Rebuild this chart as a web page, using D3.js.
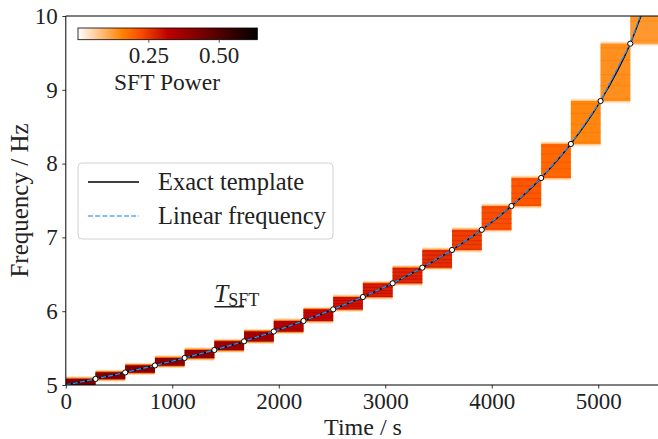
<!DOCTYPE html>
<html>
<head>
<meta charset="utf-8">
<script src="https://cdn.jsdelivr.net/npm/d3@7"></script>
<style>
  body { margin: 0; background: #fff; }
  text { font-family: "Liberation Serif", "DejaVu Serif", serif; fill: #222; }
</style>
</head>
<body>
<div id="chart"></div>
<script>
// chart dimensions
const width = 658;
const height = 439;

// SFT data
const tSft = 279;                       // SFT length in s
const xMax = 5580;                      // 20 SFTs
const edgeFreq = [5.000, 5.082, 5.170, 5.265, 5.366, 5.474, 5.592, 5.725, 5.868, 6.025,
                  6.192, 6.378, 6.590, 6.830, 7.103, 7.425, 7.805, 8.266, 8.848, 9.625, 10.75];
const segPower = [0.40, 0.39, 0.39, 0.38, 0.37, 0.36, 0.35, 0.33, 0.31, 0.29,
                  0.28, 0.27, 0.26, 0.24, 0.22, 0.21, 0.19, 0.15, 0.14, 0.13];
const xTicks = [0, 1000, 2000, 3000, 4000, 5000];
const yTicks = [5, 6, 7, 8, 9, 10];
const powerMax = 0.637;
const cbarTicks = [0.25, 0.50];
const legendLabels = ['Exact template', 'Linear frequency'];
// relative heights of the brighter frequency-bin streaks inside each SFT block
const streakRel = [0.04, 0.27, 0.46, 0.71, 0.93];

// points at the SFT edges
const edgePoints = edgeFreq.map((f, k) => ({t: k * tSft, f: f}));
const segments = segPower.map((p, k) => ({t0: k * tSft, t1: (k + 1) * tSft, f0: edgeFreq[k], f1: edgeFreq[k + 1], p: p}));

// gist_heat_r colour map
function clamp(v) { return Math.max(0, Math.min(1, v)); }
function heat(v) {
    const s = 1 - clamp(v / powerMax);
    return d3.rgb(255 * clamp(1.5 * s), 255 * clamp(2 * s - 1), 255 * clamp(4 * s - 3)).toString();
}

const svg = d3.select('#chart').append('svg')
    .attr('width', width)
    .attr('height', height);

const x = d3.scaleLinear().domain([0, xMax]).range([65.8, 660]);
const y = d3.scaleLinear().domain([5, 10]).range([385, 16]);

svg.append('clipPath').attr('id', 'plot-clip')
    .append('rect')
    .attr('x', x(0)).attr('y', y(10))
    .attr('width', x(xMax) - x(0)).attr('height', y(5) - y(10));

const plot = svg.append('g').attr('clip-path', 'url(#plot-clip)');

// SFT power rectangles: soft fringe then core
const fringes = [{pad: 0.035, k: 0.12}, {pad: 0.018, k: 0.45}];
fringes.forEach(fr => {
    plot.selectAll(null).data(segments).enter().append('rect')
        .attr('x', d => x(d.t0))
        .attr('width', d => x(d.t1) - x(d.t0))
        .attr('y', d => y(d.f1 + fr.pad))
        .attr('height', d => y(d.f0 - fr.pad) - y(d.f1 + fr.pad))
        .attr('fill', d => heat(d.p * fr.k));
});
plot.selectAll(null).data(segments).enter().append('rect')
    .attr('x', d => x(d.t0))
    .attr('width', d => x(d.t1) - x(d.t0))
    .attr('y', d => y(d.f1))
    .attr('height', d => y(d.f0) - y(d.f1))
    .attr('fill', d => heat(d.p));

// darker streaks within each block
segments.forEach(seg => {
    plot.selectAll(null).data(streakRel).enter().append('rect')
        .attr('x', x(seg.t0))
        .attr('width', x(seg.t1) - x(seg.t0))
        .attr('y', r => y(seg.f0 + r * (seg.f1 - seg.f0)) - 0.6)
        .attr('height', 1.2)
        .attr('fill', heat(seg.p * 1.12))
        .attr('opacity', 0.7);
});

// exact template and linear frequency
plot.append('path')
    .datum(edgePoints)
    .attr('fill', 'none')
    .attr('stroke', '#000')
    .attr('stroke-width', 1.3)
    .attr('d', d3.line().curve(d3.curveMonotoneX).x(d => x(d.t)).y(d => y(d.f)));

plot.append('path')
    .datum(edgePoints)
    .attr('fill', 'none')
    .attr('stroke', '#1e90ff')
    .attr('stroke-width', 1.4)
    .attr('stroke-dasharray', '5,2.2')
    .attr('d', d3.line().x(d => x(d.t)).y(d => y(d.f)));

plot.selectAll('circle').data(edgePoints.slice(1, 20)).enter().append('circle')
    .attr('cx', d => x(d.t))
    .attr('cy', d => y(d.f))
    .attr('r', 2.6)
    .attr('fill', '#fff')
    .attr('stroke', '#000')
    .attr('stroke-width', 1);

// axes
const xAxis = svg.append('g')
    .attr('transform', 'translate(0,' + y(5) + ')')
    .call(d3.axisBottom(x).tickValues(xTicks).tickFormat(d3.format('d')).tickSize(3.5).tickPadding(4));
const yAxis = svg.append('g')
    .attr('transform', 'translate(' + x(0) + ',0)')
    .call(d3.axisLeft(y).tickValues(yTicks).tickFormat(d3.format('d')).tickSize(3.5).tickPadding(4.5));
[xAxis, yAxis].forEach(a => {
    a.select('.domain').remove();
    a.selectAll('text').style('font-size', '23px').attr('fill', '#222');
    a.selectAll('line').attr('stroke', '#000').attr('stroke-width', 0.8);
});

// spines
svg.append('path')
    .attr('fill', 'none')
    .attr('stroke', '#000')
    .attr('stroke-width', 1)
    .attr('d', 'M' + x(xMax) + ',' + y(10) + 'H' + x(0) + 'V' + y(5) + 'H' + x(xMax));

svg.append('text')
    .attr('x', 363).attr('y', 435)
    .attr('text-anchor', 'middle')
    .style('font-size', '24px')
    .text('Time / s');
svg.append('text')
    .attr('transform', 'translate(28,' + y(7.5) + ') rotate(-90)')
    .attr('text-anchor', 'middle')
    .style('font-size', '25px')
    .text('Frequency / Hz');

// colour bar
const cb = d3.scaleLinear().domain([0, powerMax]).range([78, 257.3]);
const grad = svg.append('defs').append('linearGradient').attr('id', 'cbar');
d3.range(0, 1.0001, 0.05).forEach(s => {
    grad.append('stop').attr('offset', s).attr('stop-color', heat(s * powerMax));
});
svg.append('rect')
    .attr('x', cb(0)).attr('y', 28)
    .attr('width', cb(powerMax) - cb(0)).attr('height', 11.7)
    .attr('fill', 'url(#cbar)')
    .attr('stroke', '#000').attr('stroke-width', 0.8);
svg.append('g')
    .attr('transform', 'translate(0,39.7)')
    .call(d3.axisBottom(cb).tickValues(cbarTicks).tickFormat(d3.format('.2f')).tickSize(3).tickPadding(4))
    .call(g => g.select('.domain').remove())
    .call(g => g.selectAll('text').style('font-size', '23px').attr('fill', '#222'))
    .call(g => g.selectAll('line').attr('stroke', '#555'));
svg.append('text')
    .attr('x', 167).attr('y', 89.5)
    .attr('text-anchor', 'middle')
    .style('font-size', '23.5px')
    .text('SFT Power');

// legend
const legend = svg.append('g');
legend.append('rect')
    .attr('x', 78).attr('y', 163)
    .attr('width', 255).attr('height', 76)
    .attr('rx', 4)
    .attr('fill', '#fff').attr('fill-opacity', 0.8)
    .attr('stroke', '#d0d0d0');
legendLabels.forEach((label, i) => {
    const ly = 182 + i * 34;
    legend.append('line')
        .attr('x1', 88).attr('x2', 139)
        .attr('y1', ly).attr('y2', ly)
        .attr('stroke', i === 0 ? '#000' : '#5aaaff')
        .attr('stroke-width', i === 0 ? 1.3 : 1.4)
        .attr('stroke-dasharray', i === 0 ? null : '5,2.2');
    legend.append('text')
        .attr('x', 158).attr('y', ly + 8)
        .style('font-size', '24.5px')
        .text(label);
});

// T_SFT marker spanning one SFT
const mark = svg.append('g');
mark.append('line')
    .attr('x1', x(5 * tSft)).attr('x2', x(6 * tSft))
    .attr('y1', y(6.06)).attr('y2', y(6.06))
    .attr('stroke', '#222').attr('stroke-width', 1.5);
const tlab = mark.append('text')
    .attr('x', x(5 * tSft)).attr('y', y(6.06) - 5)
    .style('font-size', '25px');
tlab.append('tspan').style('font-style', 'italic').text('T');
tlab.append('tspan').attr('dy', 4).style('font-size', '18px').text('SFT');
</script>
</body>
</html>
